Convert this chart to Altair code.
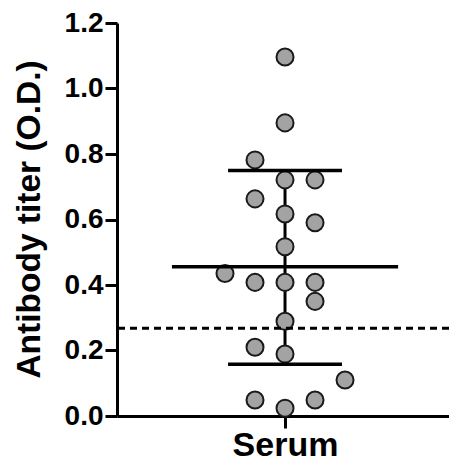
import altair as alt
import pandas as pd

# Values
titer = [1.096, 0.895, 0.782, 0.721, 0.721, 0.663, 0.617, 0.590, 0.517, 0.435,
         0.408, 0.408, 0.408, 0.350, 0.289, 0.210, 0.189, 0.110, 0.049, 0.049, 0.024]
column = [0, 0, -1, 0, 1, -1, 0, 1, 0, -2, -1, 0, 1, 1, 0, -1, 0, 2, -1, 1, 0]
group_label = "Serum"
mean_value = [0.456]
sd_bounds = [0.158, 0.750]
cutoff = [0.268]
y_ticks = [0.0, 0.2, 0.4, 0.6, 0.8, 1.0, 1.2]

FONT = "Liberation Sans"
CENTER = 1.0
X_MAX = 1.976
COL_STEP = 0.1786
MEAN_HALF = 0.673
SD_HALF = 0.339

pts = pd.DataFrame({"titer": titer, "col": column})
mean_df = pd.DataFrame({"y": mean_value, "x": [CENTER - MEAN_HALF], "x2": [CENTER + MEAN_HALF]})
sd_df = pd.DataFrame({"y": sd_bounds, "x": [CENTER - SD_HALF] * 2, "x2": [CENTER + SD_HALF] * 2})
vert_df = pd.DataFrame({"x": [CENTER], "y": [sd_bounds[0]], "y2": [sd_bounds[1]]})
cut_df = pd.DataFrame({"y": cutoff})

xscale = alt.Scale(domain=[0, X_MAX], nice=False, zero=False)
yscale = alt.Scale(domain=[0, 1.2], nice=False)

xaxis = alt.Axis(values=[CENTER], labelExpr=f"'{group_label}'", title="",
                 grid=False, labelFont=FONT, labelFontWeight="bold", labelFontSize=34,
                 labelColor="black", labelPadding=0, tickSize=12, tickWidth=3,
                 tickColor="black", domainWidth=3, domainColor="black")
yaxis = alt.Axis(values=y_ticks, format=".1f", title="Antibody titer (O.D.)",
                 grid=False, labelFont=FONT, labelFontWeight="bold", labelFontSize=28,
                 labelColor="black", labelPadding=2, tickSize=12, tickWidth=3,
                 tickColor="black", domainWidth=3, domainColor="black",
                 titleFont=FONT, titleFontWeight="bold", titleFontSize=33.5,
                 titleColor="black", titleX=-88, titleY=196, titleBaseline="middle",
                 titleAngle=270)

vert = alt.Chart(vert_df).mark_rule(color="black", strokeWidth=3).encode(
    x=alt.X("x:Q", scale=xscale, axis=xaxis),
    y=alt.Y("y:Q", scale=yscale, axis=yaxis),
    y2="y2:Q",
)

points = alt.Chart(pts).transform_calculate(
    xpos=f"{CENTER} + datum.col * {COL_STEP}"
).mark_point(filled=True, fill="#a3a3a3", stroke="#1a1a1a", strokeWidth=2,
             size=290, opacity=1, shape="circle").encode(
    x=alt.X("xpos:Q", scale=xscale),
    y=alt.Y("titer:Q", scale=yscale),
)

mean_rule = alt.Chart(mean_df).mark_rule(color="black", strokeWidth=3.5).encode(
    x="x:Q", x2="x2:Q", y="y:Q")
sd_rule = alt.Chart(sd_df).mark_rule(color="black", strokeWidth=3.5).encode(
    x="x:Q", x2="x2:Q", y="y:Q")
cut_rule = alt.Chart(cut_df).mark_rule(color="black", strokeWidth=3,
                                       strokeDash=[7, 5]).encode(y="y:Q")

chart = alt.layer(vert, points, mean_rule, sd_rule, cut_rule).properties(
    width=332, height=393,
    autosize=alt.AutoSizeParams(type="none"),
    padding={"left": 109, "top": 15, "right": 0, "bottom": 47},
).configure_view(stroke="transparent")

chart.save("out.html", embed_options={"renderer": "svg", "actions": False})
